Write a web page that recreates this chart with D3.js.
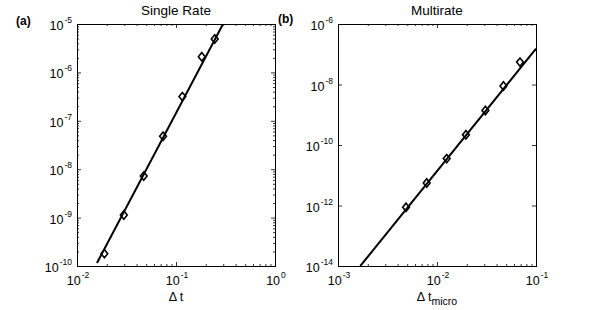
<!DOCTYPE html>
<html lang="en">
<head>
    <meta charset="UTF-8">
    <title>Convergence: Single Rate vs Multirate</title>
    <script src="https://d3js.org/d3.v7.min.js"></script>
    <style>
        body { margin: 0; background: #fff; }
        svg { display: block; font-family: "Liberation Sans", Arial, Helvetica, sans-serif; }
    </style>
</head>
<body>
    <svg width="592" height="310"></svg>

    <script>
        // Single rate: step size vs error
        const dtSingle = [0.0189, 0.0297, 0.0472, 0.074, 0.116, 0.182, 0.246];
        const errSingle = [1.8e-10, 1.13e-9, 7.2e-9, 4.8e-8, 3.16e-7, 2.1e-6, 4.9e-6];
        const fitSingleX = [0.0159, 0.2985];
        const fitSingleY = [1.15e-10, 1e-5];

        // Multirate: micro step vs error
        const dtMulti = [0.00487, 0.00787, 0.01253, 0.0196, 0.0308, 0.0469, 0.0689];
        const errMulti = [8.7e-13, 5.55e-12, 3.55e-11, 2.19e-10, 1.39e-9, 8.9e-9, 5.5e-8];
        const fitMultiX = [0.00168, 0.1];
        const fitMultiY = [1e-14, 1.52e-7];

        // tick exponents
        const xTicksSingle = [-2, -1, 0];
        const yTicksSingle = [-10, -9, -8, -7, -6, -5];
        const xTicksMulti = [-3, -2, -1];
        const yTicksMulti = [-14, -12, -10, -8, -6];

        const svg = d3.select("svg");
        const plotTop = 24, plotBottom = 266;

        function minorTicks(lo, hi) {
            const out = [];
            for (let e = lo; e < hi; e++)
                for (let m = 2; m <= 9; m++) out.push(m * Math.pow(10, e));
            return out;
        }

        function drawPanel(opt) {
            const x = d3.scaleLog().domain(opt.xDomain).range([opt.left, opt.right]);
            const y = d3.scaleLog().domain(opt.yDomain).range([plotBottom, plotTop]);
            const g = svg.append("g");

            const clipId = "clip-" + opt.tag;
            g.append("clipPath").attr("id", clipId)
                .append("rect")
                .attr("x", opt.left).attr("y", plotTop)
                .attr("width", opt.right - opt.left).attr("height", plotBottom - plotTop);

            // ticks, all four sides, pointing in
            const xMaj = opt.xTicks.map(e => Math.pow(10, e));
            const yMaj = opt.yTicks.map(e => Math.pow(10, e));
            const xMin = minorTicks(opt.xTicks[0], opt.xTicks[opt.xTicks.length - 1]);
            const yMin = opt.yMinor ? minorTicks(opt.yTicks[0], opt.yTicks[opt.yTicks.length - 1]) : [];

            const axes = [
                [d3.axisBottom(x), plotBottom, "x", xMaj, xMin],
                [d3.axisTop(x), plotTop, "x", xMaj, xMin],
                [d3.axisLeft(y), opt.left, "y", yMaj, yMin],
                [d3.axisRight(y), opt.right, "y", yMaj, yMin]
            ];
            axes.forEach(([ax, pos, dir, maj, min]) => {
                [[maj, -4], [min, -2]].forEach(([vals, len]) => {
                    const a = svg.append("g")
                        .attr("transform", dir === "x" ? `translate(0,${pos})` : `translate(${pos},0)`)
                        .call(ax.tickValues(vals).tickSize(len).tickFormat(""));
                    a.select(".domain").remove();
                    a.selectAll("line").attr("stroke", "#000").attr("stroke-width", 0.8);
                });
            });

            // frame
            g.append("rect")
                .attr("x", opt.left + 0.5).attr("y", plotTop + 0.5)
                .attr("width", opt.right - opt.left).attr("height", plotBottom - plotTop)
                .attr("fill", "none").attr("stroke", "#000").attr("stroke-width", 1);

            // tick labels 10^e
            opt.xTicks.forEach(e => {
                const t = g.append("text")
                    .attr("x", x(Math.pow(10, e)) + 1).attr("y", plotBottom + 19)
                    .attr("text-anchor", "middle").attr("font-size", 12.5).attr("fill", "#000");
                t.append("tspan").text("10");
                t.append("tspan").attr("dy", -7).attr("dx", 1).attr("font-size", 8.5).text(e);
            });
            opt.yTicks.forEach(e => {
                const t = g.append("text")
                    .attr("x", opt.left - 5).attr("y", y(Math.pow(10, e)) + 6)
                    .attr("text-anchor", "end").attr("font-size", 12.5).attr("fill", "#000");
                t.append("tspan").text("10");
                t.append("tspan").attr("dy", -7).attr("dx", 1).attr("font-size", 8.5).text(e);
            });

            // fitted line
            const fit = opt.fitX.map((d, i) => [d, opt.fitY[i]]);
            g.append("path")
                .attr("clip-path", `url(#${clipId})`)
                .attr("d", d3.line().x(d => x(d[0])).y(d => y(d[1]))(fit))
                .attr("fill", "none").attr("stroke", "#000").attr("stroke-width", 2);

            // diamond markers
            const pts = opt.xs.map((d, i) => [d, opt.ys[i]]);
            g.selectAll(".pt").data(pts).enter().append("path")
                .attr("class", "pt")
                .attr("transform", d => `translate(${x(d[0])},${y(d[1])})`)
                .attr("d", "M0,-4.2L3.4,0L0,4.2L-3.4,0Z")
                .attr("fill", "none").attr("stroke", "#000").attr("stroke-width", 1.6);

            // title
            g.append("text")
                .attr("x", (opt.left + opt.right) / 2).attr("y", 15)
                .attr("text-anchor", "middle").attr("font-size", 13.5).attr("fill", "#000")
                .text(opt.title);

            // panel letter
            g.append("text")
                .attr("x", opt.letterX).attr("y", opt.letterY)
                .attr("font-size", 12).attr("font-weight", "bold").attr("fill", "#000")
                .text(opt.letter);

            // x label
            const xl = g.append("text")
                .attr("x", (opt.left + opt.right) / 2).attr("y", 301)
                .attr("text-anchor", "middle").attr("font-size", 12.5).attr("fill", "#000");
            xl.append("tspan").text(opt.xLabel);
            if (opt.xSub) xl.append("tspan").attr("dy", 4).attr("font-size", 10.5).text(opt.xSub);
        }

        drawPanel({
            tag: "a", left: 77, right: 275,
            xDomain: [1e-2, 1], yDomain: [1e-10, 1e-5],
            xTicks: xTicksSingle, yTicks: yTicksSingle, yMinor: true,
            xs: dtSingle, ys: errSingle, fitX: fitSingleX, fitY: fitSingleY,
            title: "Single Rate", letter: "(a)", letterX: 16, letterY: 25,
            xLabel: "\u0394 t", xSub: null
        });

        drawPanel({
            tag: "b", left: 338, right: 536,
            xDomain: [1e-3, 1e-1], yDomain: [1e-14, 1e-6],
            xTicks: xTicksMulti, yTicks: yTicksMulti, yMinor: false,
            xs: dtMulti, ys: errMulti, fitX: fitMultiX, fitY: fitMultiY,
            title: "Multirate", letter: "(b)", letterX: 278, letterY: 23,
            xLabel: "\u0394 t", xSub: "micro"
        });
    </script>
</body>
</html>
